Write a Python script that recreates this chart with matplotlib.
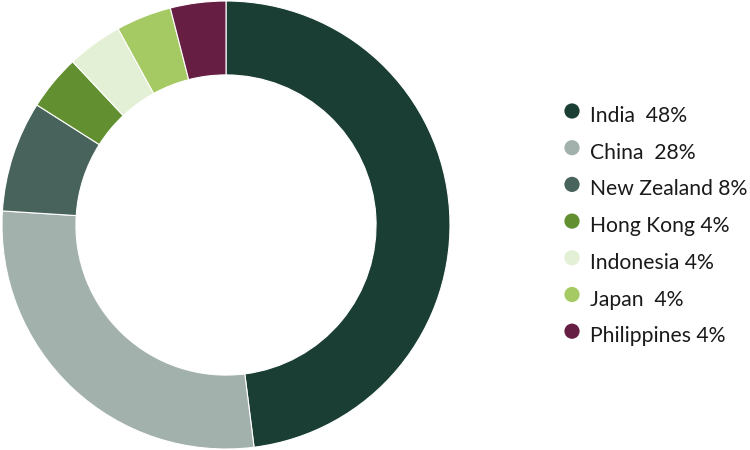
import matplotlib
matplotlib.use("Agg")
import matplotlib.pyplot as plt

# data
countries = ['India', 'China', 'New Zealand', 'Hong Kong', 'Indonesia', 'Japan', 'Philippines']
shares = [48, 28, 8, 4, 4, 4, 4]
labels = ['India  48%', 'China  28%', 'New Zealand 8%', 'Hong Kong 4%',
          'Indonesia 4%', 'Japan  4%', 'Philippines 4%']
colors = ['#1a3d34', '#a2b1ac', '#48635b', '#629031', '#e4f0d5', '#a6ca63', '#671e43']

plt.rcParams['font.family'] = ['Lato', 'DejaVu Sans']

fig = plt.figure(figsize=(7.5, 4.5), dpi=100)

# donut
ax = fig.add_axes([2 / 750, 1 / 450, 448 / 750, 448 / 450])
ax.pie(shares, colors=colors, startangle=90, counterclock=False, radius=1.0,
       wedgeprops=dict(width=0.33, edgecolor='white', linewidth=0.8))
ax.set_aspect('equal')
ax.set_xlim(-1, 1)
ax.set_ylim(-1, 1)
ax.axis('off')

# legend drawn by hand
lax = fig.add_axes([0, 0, 1, 1])
lax.set_xlim(0, 750)
lax.set_ylim(450, 0)
lax.axis('off')
y0, dy = 116, 36.7
for i, (lab, c) in enumerate(zip(labels, colors)):
    y = y0 + i * dy
    lax.scatter([572], [y - 5], s=120, color=c, edgecolors='none')
    lax.text(590, y, lab, fontsize=15.2, color='#1a1a1a', va='center')

fig.savefig('out.png', dpi=100)
